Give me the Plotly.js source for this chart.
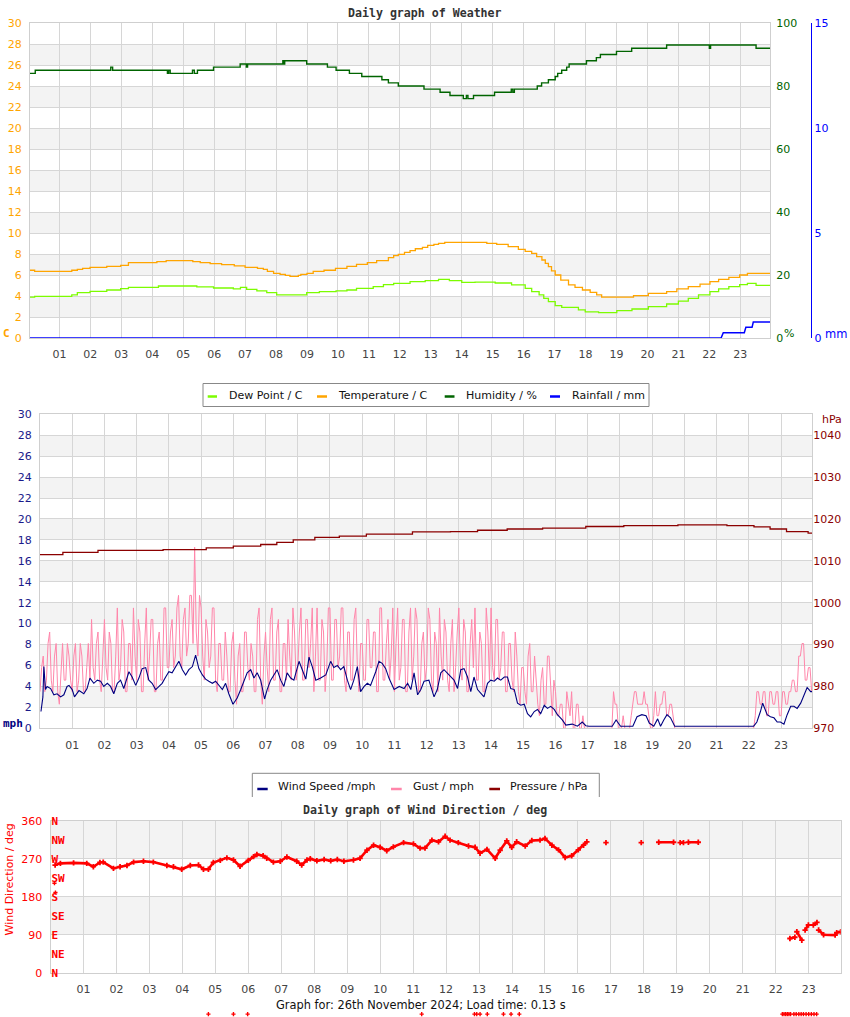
<!DOCTYPE html>
<html><head><meta charset="utf-8">
<script src="https://cdn.plot.ly/plotly-3.0.1.min.js"></script>
<style>html,body{margin:0;padding:0;background:#fff}#chart{width:850px;height:1017px}</style>
</head><body><div id="chart"></div>
<script>
// ---------- DATA ----------
const hourTicks = [1,2,3,4,5,6,7,8,9,10,11,12,13,14,15,16,17,18,19,20,21,22,23];
const hourLabels = ['01','02','03','04','05','06','07','08','09','10','11','12','13','14','15','16','17','18','19','20','21','22','23'];

const tempHours = [0.05,0.2,1.4,1.58,1.75,1.99,2.53,2.98,3.23,4.15,4.45,5.31,5.55,5.87,6.24,6.65,7.0,7.4,7.59,7.72,7.92,8.13,8.3,8.45,8.72,8.8,9.0,9.2,9.55,9.92,10.29,10.6,10.95,11.25,11.63,11.8,11.95,12.15,12.33,12.5,12.73,12.9,13.1,13.25,13.45,14.81,15.13,15.5,15.83,16.05,16.26,16.42,16.59,16.7,16.8,16.9,17.02,17.2,17.45,17.66,17.9,18.15,18.36,18.52,19.55,20.03,20.62,20.95,21.32,21.7,22.02,22.3,22.63,22.98,23.23,23.96];
const tempC = [6.45,6.35,6.45,6.54,6.63,6.73,6.83,6.92,7.17,7.27,7.36,7.27,7.17,7.08,6.98,6.86,6.73,6.63,6.54,6.35,6.16,6.06,5.97,5.87,5.97,6.06,6.16,6.35,6.45,6.63,6.83,7.02,7.17,7.36,7.65,7.85,7.96,8.15,8.32,8.5,8.63,8.83,8.92,9.02,9.11,9.02,8.92,8.70,8.44,8.25,8.06,7.75,7.43,7.1,6.79,6.4,6.0,5.52,5.05,4.83,4.57,4.35,4.10,3.90,4.03,4.25,4.41,4.67,4.89,5.14,5.37,5.59,5.78,6.0,6.16,6.16];

const dewHours = [0.05,0.2,1.4,1.58,1.99,2.53,2.98,3.23,4.2,5.44,5.98,6.62,6.85,7.05,7.38,7.7,8.02,8.99,9.4,9.94,10.29,10.6,11.14,11.47,11.8,12.33,12.82,13.25,13.6,14.0,14.43,15.08,15.61,16.05,16.26,16.5,16.65,16.8,17.02,17.23,17.77,17.99,18.42,19.01,19.5,20.03,20.62,21.0,21.32,21.65,22.02,22.3,22.63,22.98,23.23,23.51,23.96];
const dewC = [3.90,3.97,4.10,4.32,4.44,4.57,4.70,4.83,4.95,4.86,4.76,4.67,4.83,4.63,4.48,4.32,4.10,4.32,4.41,4.48,4.57,4.73,4.89,5.08,5.21,5.37,5.46,5.59,5.46,5.30,5.33,5.24,5.05,4.73,4.41,4.10,3.78,3.46,3.08,2.92,2.67,2.48,2.41,2.60,2.76,2.98,3.24,3.52,3.78,4.10,4.41,4.67,4.89,5.08,5.21,5.02,5.02];

const humHours = [0.05,0.22,2.66,2.72,4.49,4.53,4.58,5.30,5.36,5.46,5.98,6.84,7.04,7.08,8.22,8.26,8.28,8.99,9.66,9.94,10.37,10.77,11.42,11.63,11.95,12.78,13.30,13.62,14.05,14.15,14.2,14.38,15.06,15.6,15.65,15.7,16.44,16.58,16.80,17.02,17.10,17.23,17.39,17.47,18.03,18.35,18.48,19.00,19.49,20.62,22.00,22.04,23.51,23.96];
const humPct = [84,85,86,85,84,85,84,85,84,85,86,87,86,87,88,87,88,87,86,85,84,83,82,81,80,79,78,77,76,77,76,77,78,79,78,79,80,81,82,83,84,85,86,87,88,89,90,91,92,93,92,93,92,92];

const rainHours = [0.05,22.38,22.45,23.13,23.18,23.38,23.42,23.96];
const rainMm = [0,0,0.254,0.254,0.508,0.508,0.762,0.762];

const windHours = [0.03,0.09,0.12,0.17,0.22,0.33,0.43,0.53,0.64,0.74,
 0.84,0.9,1.0,1.07,1.21,1.36,1.46,1.55,1.67,1.78,
 1.88,1.98,2.09,2.19,2.29,2.4,2.5,2.6,2.76,2.86,
 2.97,3.07,3.17,3.28,3.38,3.48,3.59,3.69,3.79,3.9,
 4.0,4.1,4.21,4.31,4.42,4.52,4.62,4.73,4.83,4.93,
 5.04,5.14,5.24,5.35,5.45,5.55,5.66,5.76,5.86,5.99,
 6.12,6.23,6.33,6.43,6.54,6.64,6.74,6.85,6.97,7.05,
 7.16,7.26,7.36,7.47,7.57,7.67,7.78,7.88,8.04,8.14,
 8.25,8.35,8.45,8.56,8.71,8.87,9.02,9.12,9.23,9.33,
 9.43,9.54,9.64,9.74,9.85,9.95,10.06,10.16,10.26,10.42,
 10.52,10.62,10.73,10.83,10.99,11.15,11.3,11.41,11.51,11.61,
 11.72,11.82,11.92,12.07,12.23,12.33,12.44,12.54,12.64,12.75,
 12.85,12.96,13.06,13.16,13.27,13.37,13.47,13.58,13.68,13.78,
 13.89,13.99,14.1,14.2,14.3,14.41,14.51,14.61,14.72,14.82,
 14.92,15.03,15.13,15.23,15.34,15.44,15.54,15.65,15.75,15.85,
 15.96,16.06,16.21,16.32,16.52,16.68,16.83,16.94,17.04,17.76,
 17.88,18.02,18.4,18.53,18.68,18.81,18.91,19.05,19.17,19.26,
 19.36,19.46,19.57,19.7,22.15,22.25,22.36,22.43,22.57,22.67,
 22.78,22.88,22.98,23.09,23.19,23.3,23.4,23.5,23.61,23.71,
 23.81,23.92,23.97];
const windMph = [1.6,3.0,5.9,3.7,4.0,3.8,3.2,3.3,3.0,3.2,
 4.0,4.1,3.7,3.0,3.6,3.3,3.8,4.8,4.3,4.6,
 4.5,4.0,4.3,4.0,3.3,4.3,4.6,3.8,5.4,4.9,
 4.1,4.8,5.7,5.8,4.6,4.3,3.7,4.0,4.3,4.9,
 5.4,5.3,5.9,6.4,5.6,5.1,5.6,5.9,7.0,5.7,
 5.1,4.7,4.5,4.3,4.5,4.1,3.7,4.3,3.3,2.3,
 2.9,3.7,4.6,5.3,5.6,4.8,5.3,4.6,2.8,3.7,
 4.6,5.1,5.6,4.6,4.0,5.3,4.8,4.6,6.4,5.6,
 4.7,6.8,5.9,4.6,4.8,5.1,6.4,5.8,6.0,5.6,
 5.9,4.6,3.7,4.6,5.9,3.5,4.0,4.3,4.1,5.4,
 6.4,6.2,5.7,4.8,3.7,4.0,3.8,4.3,3.7,5.3,
 3.2,3.7,4.5,4.6,3.0,3.7,5.3,5.6,5.3,4.9,
 4.6,3.8,5.6,5.7,4.9,3.5,4.9,3.7,3.3,3.0,
 4.3,4.6,4.5,4.8,4.6,4.9,4.9,3.8,3.7,2.4,
 2.2,2.3,1.4,1.1,1.6,1.8,1.4,2.2,1.9,2.1,
 1.8,1.3,0.8,0.3,0.4,0.2,0.6,0.25,0.2,0.2,
 0.8,0.2,0.2,1.1,1.3,1.2,0.5,0.2,0.9,0.2,
 0.8,1.3,1.0,0.2,0.2,0.6,1.6,2.4,1.3,1.1,
 1.0,0.6,0.6,0.4,1.3,2.1,2.1,1.9,2.4,3.2,
 3.9,3.5,3.5];

// gust sampled every 3 minutes (0.05 h) from 00:00, one row per hour
const gustStartHour = 0, gustStepHour = 0.05;
const gustMph = [
 3.5,5.8,6.9,3.5,4.6,8.1,9.2,4.6,3.5,6.9,8.1,3.5,2.3,5.8,8.1,4.6,4.6,8.1,6.9,4.6,
 3.5,6.9,8.1,3.5,4.6,8.1,6.9,3.5,3.5,5.8,8.1,4.6,10.4,5.8,4.6,8.1,9.2,4.6,3.5,6.9,
 10.4,5.8,4.6,9.2,8.1,3.5,3.5,6.9,11.5,4.6,5.8,10.4,9.2,3.5,3.5,8.1,8.1,4.6,11.5,6.9,
 4.6,10.4,9.2,3.5,3.5,8.1,11.5,4.6,6.9,10.4,10.4,3.5,3.5,8.1,9.2,4.6,4.6,11.5,11.5,5.8,
 5.8,9.2,10.4,5.8,6.9,11.5,12.7,6.9,5.8,10.4,11.5,6.9,8.1,12.7,12.7,8.1,17.3,9.2,6.9,12.7,
 11.5,6.9,4.6,10.4,9.2,5.8,6.9,11.5,11.5,4.6,3.5,8.1,8.1,4.6,4.6,9.2,6.9,3.5,3.5,8.1,
 9.2,4.6,2.3,6.9,8.1,3.5,3.5,9.2,9.2,5.8,4.6,8.1,6.9,3.5,3.5,10.4,11.5,4.6,2.3,6.9,
 9.2,5.8,3.5,10.4,11.5,4.6,4.6,9.2,10.4,3.5,3.5,8.1,8.1,4.6,10.4,6.9,4.6,11.5,9.2,4.6,
 5.8,9.2,11.5,4.6,4.6,10.4,10.4,5.8,8.1,11.5,3.5,6.9,11.5,4.6,4.6,10.4,9.2,3.5,5.8,11.5,
 11.5,4.6,4.6,10.4,10.4,5.8,6.9,11.5,11.5,4.6,3.5,9.2,9.2,4.6,4.6,10.4,11.5,5.8,3.5,8.1,
 8.1,4.6,4.6,10.4,10.4,5.8,5.8,9.2,9.2,3.5,3.5,11.5,11.5,4.6,4.6,8.1,10.4,4.6,6.9,11.5,
 3.5,8.1,11.5,4.6,5.8,10.4,10.4,3.5,3.5,9.2,11.5,4.6,6.9,11.5,10.4,3.5,3.5,8.1,9.2,4.6,
 5.8,11.5,10.4,4.6,3.5,9.2,8.1,3.5,11.5,6.9,4.6,10.4,9.2,4.6,3.5,8.1,10.4,3.5,5.8,9.2,
 11.5,5.8,4.6,10.4,9.2,3.5,3.5,8.1,10.4,5.8,11.5,4.6,4.6,9.2,8.1,3.5,3.5,11.5,9.2,4.6,
 11.5,5.8,4.6,10.4,10.4,4.6,5.8,9.2,9.2,3.5,3.5,8.1,8.1,4.6,3.5,9.2,6.9,3.5,2.3,5.8,
 5.8,3.5,2.3,6.9,8.1,3.5,3.5,6.9,4.6,2.3,1.2,4.6,5.8,2.3,2.3,6.9,6.9,3.5,1.2,4.6,
 3.5,1.2,1.2,2.3,2.3,0,0,3.5,2.3,1.2,3.5,0,0,2.3,2.3,0,0,1.2,0,0,
 0,0,0,0,0,0,0,0,0,0,0,0,0,0,0,0,3.5,2.3,2.3,0,
 0,0,1.2,0,0,0,0,1.2,2.3,3.5,3.5,2.3,2.3,2.3,2.3,3.5,2.3,2.3,1.2,0,
 0,1.2,3.5,1.2,1.2,2.3,2.3,3.5,3.5,1.2,1.2,2.3,2.3,1.2,0,0,0,0,0,0,
 0,0,0,0,0,0,0,0,0,0,0,0,0,0,0,0,0,0,0,0,
 0,0,0,0,0,0,0,0,0,0,0,0,0,0,0,0,0,0,0,0,
 0,0,0,0,1.2,3.5,3.5,2.3,2.3,3.5,3.5,1.2,1.2,3.5,3.5,2.3,2.3,3.5,3.5,1.2,
 1.2,3.5,3.5,2.3,2.3,3.5,3.5,4.6,4.6,3.5,3.5,6.9,6.9,8.1,8.1,4.6,4.6,5.8,5.8,3.5,
 3.5];

const pressHours = [0.0,0.71,1.8,3.82,5.16,6.0,6.85,7.35,7.86,8.53,9.29,10.13,11.56,12.74,13.58,14.5,15.6,16.94,18.12,19.8,21.32,22.16,22.66,23.17,23.84,23.97];
const pressHpa = [1011.5,1012.0,1012.5,1012.7,1013.1,1013.5,1013.9,1014.4,1015.0,1015.6,1015.9,1016.4,1016.9,1017.0,1017.3,1017.6,1017.8,1018.2,1018.4,1018.6,1018.4,1018.1,1017.6,1017.0,1016.6,1016.5];

const dirHours = [0.14,0.3,0.7,1.1,1.3,1.5,1.6,1.91,2.11,2.32,2.52,2.82,3.12,3.53,3.73,3.98,4.24,4.49,4.64,4.79,4.94,5.15,5.35,5.55,5.75,6.0,6.16,6.26,6.45,6.56,6.76,6.97,7.17,7.47,7.62,7.78,7.88,8.08,8.3,8.5,8.7,8.9,9.19,9.39,9.6,9.8,10.0,10.2,10.4,10.71,11.01,11.21,11.36,11.57,11.77,11.97,12.12,12.37,12.68,12.88,13.03,13.24,13.49,13.64,13.84,13.99,14.14,14.4,14.6,14.85,15.0,15.21,15.41,15.61,15.81,16.01,16.17,16.27,16.5,16.85,17.3,17.92,18.2,18.45,18.9,19.0,19.1,19.2,19.28,19.35,19.65,20.0,22.43,22.58,22.61,22.64,22.79,22.84,22.89,22.99,23.06,23.14,23.25,23.28,23.3,23.45,23.8,23.85,23.97];
const dirDeg = [255,259,260,259,251,261,262,247,251,254,262,264,262,254,251,245,254,255,245,245,261,266,272,267,252,266,275,280,277,271,262,264,274,264,255,267,270,265,268,265,268,264,267,271,290,302,297,289,298,308,305,295,295,314,310,323,314,308,300,297,283,292,271,290,312,297,310,300,313,314,318,302,291,273,277,291,302,310,null,308,null,308,null,309,309,null,308,308,null,309,309,null,81,84,null,97,77,null,101,113,null,113,119,null,101,90,89,95,97];

// isolated direction readings near the start of the day
const dirLooseHours = [0.12,0.15];
const dirLooseDeg = [212,190];
// readings that fall below the direction panel (drawn under the footer)
const dirLowHours = [4.79,5.55,5.98,11.26,12.86,12.93,13.03,13.25,13.74,13.97,14.22,22.2,22.25,22.3,22.35,22.4,22.45,22.55,22.62,22.7,22.77,22.84,22.92,23.0,23.08,23.16,23.24];
const dirLowDeg = [-98,-98,-98,-98,-98,-98,-98,-98,-98,-98,-98,-98,-98,-98,-98,-98,-98,-98,-98,-98,-98,-98,-98,-98,-98,-98,-98];

const tempTicks = [0,2,4,6,8,10,12,14,16,18,20,22,24,26,28,30];
const humTicks = [0,20,40,60,80,100];
const rainTicks = [0,5,10,15];
const mphTicks = [0,2,4,6,8,10,12,14,16,18,20,22,24,26,28,30];
const hpaTicks = [970,980,990,1000,1010,1020,1030,1040];
const dirTicks = [0,90,180,270,360];
const compassTicks = [0,45,90,135,180,225,270,315,360];
const compassLabels = ['N','NE','E','SE','S','SW','W','NW','N'];

// ---------- LAYOUT HELPERS ----------
const W = 850, H = 1017;
const px = x => x / W;
const py = y => 1 - y / H;
const P1 = {l:30, r:770, t:23, b:338};
const P2 = {l:40, r:812.3, t:414.3, b:728.3};
const P3 = {l:50.5, r:840.7, t:820.7, b:972.7};
const GRID = '#d6d6d6', BAND = '#f3f3f3', FRAME = '#cfcfcf';
const TXT = '#444444';
const tickF = (c) => ({family:'DejaVu Sans', size:11, color:c});

function xAxis(P, anchor, range) {
  return {domain:[px(P.l), px(P.r)], anchor, range, tickmode:'array', tickvals:hourTicks, ticktext:hourLabels,
    showgrid:true, gridcolor:GRID, gridwidth:1, zeroline:false, showline:true, linecolor:FRAME, mirror:true,
    ticks:'outside', ticklen:6, tickcolor:'rgba(0,0,0,0)', tickfont:tickF(TXT), fixedrange:true};
}
function yLeft(P, anchor, range, vals, color) {
  return {domain:[py(P.b), py(P.t)], anchor, range, tickmode:'array', tickvals:vals,
    showgrid:true, gridcolor:GRID, gridwidth:1, zeroline:false, showline:true, linecolor:FRAME, mirror:true,
    ticks:'outside', ticklen:5, tickcolor:'rgba(0,0,0,0)', tickfont:tickF(color), fixedrange:true};
}

const shapes = [];
function bands(xref, yref, vals) {
  for (let i = 1; i < vals.length - 1; i += 2) {
    shapes.push({type:'rect', xref:xref, yref:yref, x0:0, x1:1, y0:vals[i], y1:vals[i+1], fillcolor:BAND, line:{width:0}, layer:'below'});
  }
}
bands('x domain', 'y', tempTicks);
bands('x2 domain', 'y4', mphTicks);
bands('x3 domain', 'y6', dirTicks);

// ---------- TRACES ----------
const traces = [
  {x:dewHours, y:dewC, xaxis:'x', yaxis:'y', mode:'lines', name:'Dew Point / C', line:{color:'#7CFC00', width:1.3, shape:'hv'}},
  {x:tempHours, y:tempC, xaxis:'x', yaxis:'y', mode:'lines', name:'Temperature / C', line:{color:'#FFA500', width:1.3, shape:'hv'}},
  {x:humHours, y:humPct, xaxis:'x', yaxis:'y2', mode:'lines', name:'Humidity / %', line:{color:'#006400', width:1.4, shape:'hv'}},
  {x:rainHours, y:rainMm, xaxis:'x', yaxis:'y3', mode:'lines', name:'Rainfall / mm', line:{color:'#0000FF', width:1.5}},
  {x:gustMph.map((_, i) => gustStartHour + i * gustStepHour), y:gustMph, xaxis:'x2', yaxis:'y4', mode:'lines', name:'Gust / mph', line:{color:'#FF86AA', width:1}},
  {x:windHours, y:windMph, xaxis:'x2', yaxis:'y4', mode:'lines', name:'Wind Speed /mph', line:{color:'#000080', width:1.1}},
  {x:pressHours, y:pressHpa, xaxis:'x2', yaxis:'y5', mode:'lines', name:'Pressure / hPa', line:{color:'#8B0000', width:1.3, shape:'hv'}},
  {x:dirHours, y:dirDeg, xaxis:'x3', yaxis:'y6', mode:'lines+markers', name:'Wind Direction', connectgaps:false,
    line:{color:'#FF0000', width:2.6}, marker:{symbol:'cross', size:4.5, color:'#FF0000'}},
  {x:dirLooseHours, y:dirLooseDeg, xaxis:'x3', yaxis:'y6', mode:'markers', name:'loose',
    marker:{symbol:'cross', size:3.5, color:'#FF0000'}},
  {x:dirLowHours, y:dirLowDeg, xaxis:'x4', yaxis:'y8', mode:'markers', name:'low',
    marker:{symbol:'cross', size:3.5, color:'#FF0000'}},
  {x:[], y:[], xaxis:'x3', yaxis:'y7', mode:'markers', name:'compass'}
];
traces.forEach(t => t.showlegend = false);

// ---------- LEGENDS (drawn as boxes + text) ----------
const annotations = [];
function legendBox(x0, x1, y0, y1, items, yText, yDash, openBottom) {
  if (openBottom) {
    shapes.push({type:'path', xref:'paper', yref:'paper', layer:'above',
      path:`M ${px(x0)} ${py(y1)} L ${px(x0)} ${py(y0)} L ${px(x1)} ${py(y0)} L ${px(x1)} ${py(y1)}`,
      line:{color:'#888', width:1}});
  } else {
    shapes.push({type:'rect', xref:'paper', yref:'paper', layer:'above', x0:px(x0), x1:px(x1), y0:py(y1), y1:py(y0),
      fillcolor:'#ffffff', line:{color:'#888', width:1}});
  }
  items.forEach(it => {
    shapes.push({type:'line', xref:'paper', yref:'paper', layer:'above', x0:px(it.d0), x1:px(it.d1), y0:py(yDash), y1:py(yDash),
      line:{color:it.color, width:2.5}});
    annotations.push({xref:'paper', yref:'paper', x:px(it.tx), y:py(yText), xanchor:'left', yanchor:'middle', showarrow:false,
      text:it.text, font:{family:'DejaVu Sans', size:11, color:'#111'}});
  });
}
legendBox(203, 649, 383.5, 406.5, [
  {d0:207.7, d1:217, tx:226.5, text:traces[0].name, color:traces[0].line.color},
  {d0:317, d1:327, tx:335.5, text:traces[1].name, color:traces[1].line.color},
  {d0:444.7, d1:454.5, tx:463.5, text:traces[2].name, color:traces[2].line.color},
  {d0:550, d1:560, tx:569.5, text:traces[3].name, color:traces[3].line.color}
], 395.5, 396.5, false);
legendBox(252.3, 599.3, 773.3, 797, [
  {d0:257.3, d1:267.7, tx:275.5, text:traces[5].name, color:traces[5].line.color},
  {d0:391, d1:401.7, tx:410.5, text:traces[4].name, color:traces[4].line.color},
  {d0:489.3, d1:500, tx:508, text:traces[6].name, color:traces[6].line.color}
], 786.5, 789, true);

function note(x, y, text, color, opts) {
  annotations.push(Object.assign({xref:'paper', yref:'paper', x:px(x), y:py(y), showarrow:false, text,
    xanchor:'center', yanchor:'middle', font:{family:'DejaVu Sans', size:11, color}}, opts || {}));
}
const monoBold = (c, s) => ({family:'DejaVu Sans Mono', size:s || 11.6, color:c, weight:'bold'});
note(425, 13, 'Daily graph of Weather', '#333', {font:monoBold('#333')});
note(425, 809.5, 'Daily graph of Wind Direction / deg', '#333', {font:monoBold('#333')});
note(6, 333, 'C', '#FFA500', {font:monoBold('#FFA500', 11)});
note(12.5, 723, 'mph', '#000080', {font:monoBold('#000080', 11)});
note(789, 333.5, '%', '#006400', {font:{family:'DejaVu Sans', size:11, color:'#006400'}});
note(836, 334, 'mm', '#0000FF', {font:{family:'DejaVu Sans', size:11.5, color:'#0000FF'}});
note(832, 419, 'hPa', '#8B0000', {font:{family:'DejaVu Sans', size:11, color:'#8B0000'}});
note(8.5, 880, 'Wind Direction / deg', '#FF0000', {textangle:-90, font:{family:'DejaVu Sans', size:11, color:'#FF0000'}});
note(421, 1005, 'Graph for: 26th November 2024; Load time: 0.13 s', '#111', {font:{family:'DejaVu Sans', size:11.4, color:'#111'}});

// strip below the direction panel, same px-per-degree, used only for the low readings
const degPerPx = 360 / (P3.b - P3.t);
const lowRange = [-(H - P3.b) * degPerPx, 0];

const layout = {
  width:W, height:H, margin:{l:0, r:0, t:0, b:0}, paper_bgcolor:'#ffffff', plot_bgcolor:'rgba(0,0,0,0)',
  font:{family:'DejaVu Sans', size:11, color:TXT}, showlegend:false,
  xaxis: xAxis(P1, 'y', [0.05, 23.96]),
  yaxis: yLeft(P1, 'x', [0, 30], tempTicks, '#FFA500'),
  yaxis2: {overlaying:'y', anchor:'x', side:'right', range:[0,100], tickmode:'array', tickvals:humTicks,
    showgrid:false, zeroline:false, showline:false, ticks:'outside', ticklen:3, tickcolor:'rgba(0,0,0,0)', tickfont:tickF('#006400'), fixedrange:true},
  yaxis3: {overlaying:'y', anchor:'free', position:px(811), side:'right', range:[0,15], tickmode:'array', tickvals:rainTicks,
    showgrid:false, zeroline:false, showline:true, linecolor:'#0000FF', linewidth:1.2, ticks:'', tickfont:tickF('#0000FF'), fixedrange:true},
  xaxis2: xAxis(P2, 'y4', [0, 23.97]),
  yaxis4: yLeft(P2, 'x2', [0, 30], mphTicks, '#1a1a8a'),
  yaxis5: {overlaying:'y4', anchor:'x2', side:'right', range:[970,1045], tickmode:'array', tickvals:hpaTicks,
    showgrid:false, zeroline:false, showline:false, ticks:'', tickfont:tickF('#8B0000'), fixedrange:true},
  xaxis3: xAxis(P3, 'y6', [0, 23.97]),
  yaxis6: yLeft(P3, 'x3', [0, 360], dirTicks, '#FF0000'),
  yaxis7: {overlaying:'y6', anchor:'free', position:px(50.5), side:'right', range:[0,360], tickmode:'array', tickvals:compassTicks, ticktext:compassLabels,
    showgrid:false, zeroline:false, showline:false, ticks:'', tickfont:{family:'DejaVu Sans Mono', size:11, color:'#FF0000', weight:'bold'}, fixedrange:true},
  xaxis4: {domain:[px(P3.l), px(P3.r)], anchor:'y8', range:[0, 23.97], visible:false, showgrid:false, zeroline:false, fixedrange:true},
  yaxis8: {domain:[0, py(P3.b)], anchor:'x4', range:lowRange, visible:false, showgrid:false, zeroline:false, fixedrange:true},
  shapes, annotations
};

Plotly.newPlot('chart', traces, layout, {displayModeBar:false, staticPlot:true});
</script></body></html>
